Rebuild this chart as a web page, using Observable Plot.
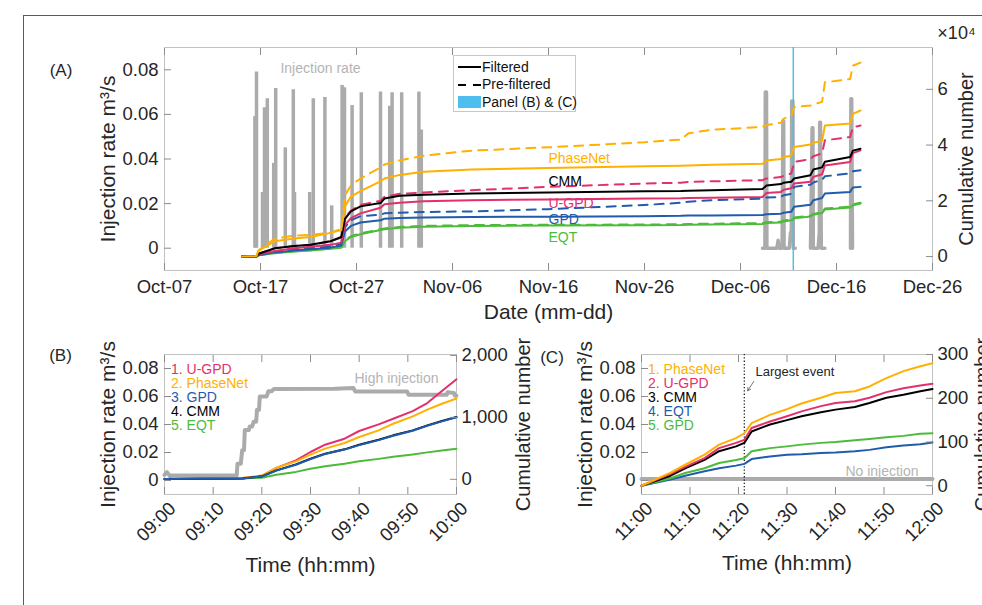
<!DOCTYPE html>
<html>
<head>
<meta charset="utf-8">
<script src="https://cdn.jsdelivr.net/npm/d3@7"></script>
<script src="https://cdn.jsdelivr.net/npm/@observablehq/plot@0.6"></script>
<style>
  html, body { margin: 0; padding: 0; background: #fff; }
  #fig { position: relative; width: 982px; height: 605px; overflow: hidden; background: #fff;
         font-family: "Liberation Sans", Arial, Helvetica, sans-serif; }
  #fig svg { position: absolute; left: 0; top: 0; }
  #border { position: absolute; left: 23px; top: 15px; width: 1100px; height: 800px;
            border-left: 1.5px solid #5a5a5a; border-top: 1.5px solid #5a5a5a; }
  #legA { position: absolute; left: 453px; top: 55px; width: 121px; height: 55px;
          border: 1px solid #c8c8c8; background: #fff; font-size: 14px; color: #111; z-index: 5; }
  #legA .row { position: absolute; left: 0; width: 121px; height: 17px; }
  #legA .lab { position: absolute; left: 28px; top: 0; line-height: 17px; white-space: nowrap; }
  #legA .seg { position: absolute; height: 0; border-top: 2px solid #000; top: 7.5px; }
  #legA .box { position: absolute; left: 4px; top: 2px; width: 23px; height: 12px; background: #4dbeee; }
</style>
</head>
<body>
<div id="fig"><div id="border"></div></div>
<script>
// ---------- shared styling ----------
const FONT = '"Liberation Sans", Arial, Helvetica, sans-serif';
const TXT = "#262626", TICK = "#8c8c8c", FRAME = "#c2c2c2", GRAY = "#ababab", LBLUE = "#4dbeee";
const ORANGE = "#ffb000", PINK = "#e2306d", BLUE = "#1f5cad", BLACK = "#000000", GREEN = "#4cbb3a";

// ---------- PANEL A data (cumulative numbers in units of 10^4) ----------
const yearA = "2020";
const xTicksA = ["10-07", "10-17", "10-27", "11-06", "11-16", "11-26", "12-06", "12-16", "12-26"];
const rateTicks = [0, 0.02, 0.04, 0.06, 0.08];
const cumTicksA = [0, 2, 4, 6];
const timeA = ["10-15 02:00","10-16 14:00","10-16 19:00","10-18 12:00","10-20 12:00","10-22 05:00",
  "10-24 07:00","10-25 10:00","10-25 19:00","10-26 10:00","10-27 10:00","10-29 12:00","10-29 22:00",
  "10-31 12:00","11-03 00:00","11-08 00:00","11-16 00:00","11-26 00:00","11-29 19:00","11-30 14:00",
  "12-03 00:00","12-08 07:00","12-08 17:00","12-10 05:00","12-10 12:00","12-11 07:00","12-11 14:00",
  "12-13 07:00","12-13 14:00","12-14 12:00","12-14 19:00","12-17 10:00","12-17 17:00","12-18 12:00"];
const phasenetA    = [0,0.02,0.2,0.55,0.65,0.7,0.85,0.95,1.8,2.15,2.35,2.7,2.8,2.93,3.04,3.12,3.18,3.24,3.26,3.27,3.29,3.33,3.45,3.5,3.57,3.62,3.93,4.02,4.08,4.15,4.7,4.77,5.12,5.24];
const phasenetPreA = [0,0.02,0.22,0.65,0.75,0.78,0.85,1.0,2.2,2.55,2.8,3.2,3.3,3.45,3.62,3.8,3.92,4.1,4.2,4.42,4.55,4.65,4.72,4.8,4.95,5.05,5.36,5.42,5.45,5.55,6.25,6.37,6.85,6.96];
const cmmA         = [0,0.01,0.1,0.3,0.38,0.42,0.55,0.7,1.35,1.62,1.8,1.92,2.08,2.18,2.22,2.26,2.3,2.34,2.35,2.36,2.38,2.42,2.55,2.6,2.65,2.68,2.8,2.92,3.12,3.2,3.4,3.57,3.8,3.87];
const ugpdA        = [0,0.01,0.08,0.2,0.3,0.35,0.42,0.5,1.13,1.38,1.55,1.75,1.88,1.93,1.98,2.02,2.05,2.08,2.09,2.1,2.11,2.14,2.28,2.32,2.4,2.45,2.62,2.68,2.86,2.95,3.27,3.39,3.71,3.81];
const ugpdPreA     = [0,0.01,0.1,0.3,0.38,0.42,0.55,0.68,1.4,1.65,1.85,2.0,2.15,2.25,2.3,2.38,2.5,2.62,2.65,2.68,2.7,2.74,2.8,2.85,2.9,2.98,3.39,3.5,3.6,3.7,4.17,4.29,4.64,4.7];
const gpdA         = [0,0,0.05,0.15,0.22,0.26,0.32,0.4,0.9,1.1,1.22,1.3,1.36,1.38,1.4,1.42,1.43,1.45,1.46,1.47,1.47,1.49,1.52,1.54,1.57,1.61,1.79,1.86,2.02,2.1,2.26,2.32,2.48,2.5];
const gpdPreA      = [0,0,0.06,0.18,0.26,0.3,0.36,0.45,1.05,1.3,1.45,1.5,1.55,1.57,1.6,1.62,1.7,1.85,1.93,1.97,2.02,2.08,2.12,2.14,2.2,2.25,2.5,2.58,2.66,2.75,2.88,2.98,3.06,3.1];
const eqtA         = [0,0,0.05,0.12,0.18,0.22,0.28,0.32,0.55,0.7,0.8,0.95,0.98,1.03,1.07,1.1,1.11,1.12,1.13,1.14,1.15,1.17,1.2,1.22,1.26,1.3,1.37,1.44,1.5,1.56,1.69,1.76,1.84,1.9];
const eqtPreA      = [0,0,0.05,0.13,0.19,0.23,0.29,0.34,0.58,0.73,0.83,0.98,1.01,1.06,1.1,1.13,1.14,1.15,1.16,1.17,1.18,1.2,1.23,1.25,1.29,1.33,1.4,1.47,1.53,1.59,1.72,1.79,1.87,1.93];
// injection spikes (peak rate, m3/s) during the October stimulation
const injOctTime = ["10-16 10:00","10-16 14:00","10-17 05:00","10-17 10:00","10-17 17:00","10-18 09:00","10-18 14:00",
  "10-19 14:00","10-20 10:00","10-20 13:00","10-22 03:00","10-22 12:00","10-23 17:00","10-24 10:00","10-25 12:00",
  "10-25 18:00","10-26 13:00","10-27 12:00","10-29 12:00","10-30 11:00","10-30 17:00","10-31 17:00","11-02 12:00","11-02 18:00"];
const injOctRate = [0.059,0.079,0.025,0.063,0.067,0.038,0.0716,0.045,0.071,0.025,0.025,0.067,0.0676,0.019,0.073,
  0.072,0.064,0.0697,0.070,0.0637,0.0697,0.0697,0.070,0.053];
// December injection (null = no record)
const injDecTime = ["12-08 07:00","12-08 13:00","12-08 14:00","12-08 17:00","12-08 18:00","12-09 19:00","12-09 22:00",
  "12-10 01:00","12-10 08:00","12-10 10:00","12-10 12:00","12-10 13:00","12-11 02:00","12-11 05:00","12-11 07:00",
  "12-11 08:00","12-11 11:00","12-11 12:00","12-11 17:00", null,
  "12-13 07:00","12-13 11:00","12-13 13:00","12-13 14:00","12-14 02:00","12-14 05:00","12-14 06:00","12-14 08:00",
  "12-14 10:00","12-14 19:00", null,
  "12-17 11:00","12-17 12:00","12-17 14:00","12-17 16:00"];
const injDecRate = [0,0,0.070,0.070,0,0,0.0036,0,0,0.057,0.057,0,0,0.007,0.004,0.066,0.066,0,0, null,
  0,0.054,0.054,0,0,0.007,0.0565,0.0565,0,0, null,
  0,0.067,0.067,0];
const panelBCTime = "12-11 12:00";
const methodsA = ["EQT", "GPD", "U-GPD", "CMM", "PhaseNet"];
const colorsA = [GREEN, BLUE, PINK, BLACK, ORANGE];
const labelA = ["PhaseNet", "CMM", "U-GPD", "GPD", "EQT"];
const labelAy = [3.53, 2.69, 1.90, 1.34, 0.69];
const labelAt = "11-16 00:00";

// ---------- PANEL B data (09:00-10:00, cumulative count) ----------
const xTicksB = ["09:00","09:10","09:20","09:30","09:40","09:50","10:00"];
const cumTicksB = [0, 1000, 2000];
const timeB = ["09:00","09:16","09:20","09:23","09:27","09:30","09:33","09:37","09:40","09:44","09:47","09:51","09:54","09:57","10:00"];
const ugpdB     = [5,20,50,185,306,441,559,656,780,887,978,1102,1231,1425,1615];
const phasenetB = [5,20,60,188,290,398,495,586,683,790,898,1016,1124,1220,1305];
const cmmB      = [5,15,48,145,242,333,414,484,559,640,710,790,871,941,1005];
const gpdB      = [5,15,45,140,236,326,408,480,552,633,704,783,865,936,1003];
const eqtB      = [5,15,27,75,120,170,210,250,290,330,365,400,435,465,495];
const injTimeB = ["09:00:00","09:00:30","09:01:10","09:01:30","09:14:50","09:15:00","09:15:40","09:15:58","09:16:20",
  "09:16:30","09:17:20","09:17:30","09:18:00","09:18:20","09:18:50","09:19:00","09:19:25","09:19:35","09:21:00",
  "09:21:20","09:22:00","09:22:30","09:35:00","09:38:50","09:39:10","09:49:50","09:50:10","09:58:00","09:58:10",
  "09:59:30","09:59:40","10:00:00"];
const injRateB = [0.004,0.006,0.003,0.0036,0.0036,0.012,0.012,0.0216,0.0216,0.036,0.036,0.0385,0.0385,0.042,0.042,
  0.0505,0.0505,0.060,0.060,0.0637,0.0637,0.0653,0.0656,0.066,0.0636,0.0636,0.0612,0.0612,0.063,0.0625,0.0605,0.0605];
const legendB = ["1. U-GPD", "2. PhaseNet", "3. GPD", "4. CMM", "5. EQT"];
const legendBColors = [PINK, ORANGE, BLUE, BLACK, GREEN];

// ---------- PANEL C data (11:00-12:00, cumulative count) ----------
const xTicksC = ["11:00","11:10","11:20","11:30","11:40","11:50","12:00"];
const cumTicksC = [0, 100, 200, 300];
const timeC = ["11:00:00","11:06:00","11:09:00","11:13:00","11:16:00","11:19:30","11:21:12","11:22:42","11:26:30",
  "11:30:00","11:33:00","11:37:00","11:40:00","11:44:00","11:47:00","11:50:30","11:54:00","11:57:30","12:00:00"];
const phasenetC = [0,30,48,71,94,109,120,143,162,175,188,201,212,216,227,246,262,273,280];
const ugpdC     = [0,27,43,63,86,98,105,132,147,159,170,182,189,193,201,214,223,229,233];
const cmmC      = [0,23,40,59,79,90,98,124,140,150,159,168,174,180,189,201,208,216,221];
const gpdC      = [0,17,29,40,52,59,63,79,86,90,94,98,100,104,107,111,114,119,120];
const eqtC      = [0,14,23,33,40,46,50,61,67,71,72,75,76,79,82,88,92,95,99];
const injTimeC = ["11:00:00", "12:00:00"];
const injRateC = [0.001, 0.001];
const largestEvent = "11:21:12";
const legendC = ["1. PhaseNet", "2. U-GPD", "3. CMM", "4. EQT", "5. GPD"];
const legendCColors = [ORANGE, PINK, BLACK, BLUE, GREEN];

// ---------- helpers ----------
const pA = d3.utcParse("%Y-%m-%d %H:%M");
const dA = s => pA(`${yearA}-${s}`);
const pHM = d3.utcParse("%H:%M"), pHMS = d3.utcParse("%H:%M:%S");
const tHM = s => (s.length > 5 ? pHMS(s) : pHM(s));
const fmtRate = d => (d === 0 ? "0" : d.toFixed(2));
const baseStyle = {background: "transparent", overflow: "visible", fontFamily: FONT, fontSize: "18.5px", color: TXT};

function tickMarks(xTicks, yTicks, yAnchor) {
  const m = [Plot.axisY({ticks: yTicks, anchor: yAnchor, tickSize: 7, dx: yAnchor === "left" ? 7 : -7,
                         fill: "none", label: null, stroke: TICK})];
  if (xTicks) {
    m.push(Plot.axisX({ticks: xTicks, anchor: "bottom", tickSize: 7, dy: -7, fill: "none", label: null, stroke: TICK}));
    m.push(Plot.axisX({ticks: xTicks, anchor: "top", tickSize: 7, dy: 7, fill: "none", label: null, stroke: TICK}));
  }
  return m;
}
function rows(times, parse, list) {
  return list.flatMap(([m, vals]) => times.map((t, i) => ({t: parse(t), v: vals[i], m})));
}
// centred text placed relative to the frame
const frameText = (s, frameAnchor, dx, dy, fontSize, extra = {}) =>
  Plot.text([s], {frameAnchor, dx, dy, fontSize, fill: TXT, textAnchor: "middle", lineAnchor: "middle", ...extra});
const fig = document.getElementById("fig");
const add = svg => fig.appendChild(svg);

// ================= PANEL A =================
const geomA = {width: 982, height: 605, marginLeft: 164, marginRight: 50, marginTop: 47, marginBottom: 335};
const xA = {type: "utc", domain: [dA("10-07 00:00"), dA("12-26 00:00")]};
const xTA = xTicksA.map(s => dA(s + " 00:00"));
const injOct = injOctTime.map((t, i) => ({t: dA(t), v: injOctRate[i]}));
const injDec = injDecTime.map((t, i) => ({t: t ? dA(t) : null, v: injDecRate[i]}));

add(Plot.plot({
  ...geomA, x: xA, y: {domain: [-0.01, 0.09]}, style: baseStyle,
  marks: [
    Plot.frame({stroke: FRAME}),
    Plot.ruleX(injOct, {x: "t", y1: 0, y2: "v", stroke: GRAY, strokeWidth: 3.5}),
    Plot.line(injDec, {x: "t", y: "v", stroke: GRAY, strokeWidth: 3.5}),
    Plot.ruleX([dA(panelBCTime)], {stroke: LBLUE, strokeWidth: 1.5}),
    ...tickMarks(xTA, rateTicks, "left"),
    Plot.axisX({ticks: xTA, anchor: "bottom", tickSize: 0, tickPadding: 9, tickFormat: d3.utcFormat("%b-%d"),
                fontSize: 18.5, fill: TXT, label: null}),
    Plot.axisY({ticks: rateTicks, anchor: "left", tickSize: 0, tickPadding: 6, tickFormat: fmtRate,
                fontSize: 18.5, fill: TXT, label: null}),
    Plot.text(["Injection rate"], {x: dA("10-23 06:00"), y: 0.0805, fill: "#b4b4b4", fontSize: 14}),
    frameText("Injection rate m³/s", "left", -56, 0, 21, {rotate: -90}),
    frameText("Date (mm-dd)", "bottom", 0, 42, 21),
    frameText("(A)", "top-left", -103.5, 23, 17)
  ]
}));

const seriesA = [["EQT", eqtA], ["GPD", gpdA], ["U-GPD", ugpdA], ["CMM", cmmA], ["PhaseNet", phasenetA]];
const seriesPreA = [["EQT", eqtPreA], ["GPD", gpdPreA], ["U-GPD", ugpdPreA], ["PhaseNet", phasenetPreA]];
add(Plot.plot({
  ...geomA, x: {...xA, axis: null}, y: {domain: [-0.5, 7.5]}, style: baseStyle,
  color: {domain: methodsA, range: colorsA},
  marks: [
    Plot.line(rows(timeA, dA, seriesPreA), {x: "t", y: "v", z: "m", stroke: "m", strokeWidth: 2, strokeDasharray: "9,7"}),
    Plot.line(rows(timeA, dA, seriesA), {x: "t", y: "v", z: "m", stroke: "m", strokeWidth: 2}),
    Plot.text(labelA, {x: dA(labelAt), y: (d, i) => labelAy[i], text: d => d, fill: d => d,
                       textAnchor: "start", fontSize: 14}),
    ...tickMarks(null, cumTicksA, "right"),
    Plot.axisY({ticks: cumTicksA, anchor: "right", tickSize: 0, tickPadding: 5, fontSize: 18.5, fill: TXT, label: null}),
    frameText("Cumulative number", "right", 34, 0, 20, {rotate: -90}),
    frameText("×10⁴", "top-right", 24, -14, 18)
  ]
}));

// ================= PANEL B =================
const geomB = {width: 982, height: 605, marginLeft: 164, marginRight: 526, marginTop: 354, marginBottom: 111};
const xB = {type: "utc", domain: [tHM("09:00"), tHM("10:00")]};
const xTB = xTicksB.map(tHM);
add(Plot.plot({
  ...geomB, x: xB, y: {domain: [-0.01, 0.09]}, style: baseStyle,
  marks: [
    Plot.frame({stroke: FRAME}),
    Plot.line(injTimeB.map((t, i) => ({t: tHM(t), v: injRateB[i]})), {x: "t", y: "v", stroke: GRAY, strokeWidth: 4}),
    ...tickMarks(xTB, rateTicks, "left"),
    Plot.axisX({ticks: xTB, anchor: "bottom", tickSize: 0, tickPadding: 11, tickRotate: -45, dx: 8,
                tickFormat: d3.utcFormat("%H:%M"), fontSize: 18.5, fill: TXT, label: null}),
    Plot.axisY({ticks: rateTicks, anchor: "left", tickSize: 0, tickPadding: 6, tickFormat: fmtRate,
                fontSize: 18.5, fill: TXT, label: null}),
    Plot.text(["High injection"], {x: tHM("09:47:40"), y: 0.0728, fill: "#b4b4b4", fontSize: 14}),
    ...legendB.map((s, i) => Plot.text([s], {frameAnchor: "top-left", dx: 6.5, dy: 15 + i * 14, textAnchor: "start",
                                             lineAnchor: "middle", fill: legendBColors[i], fontSize: 14})),
    frameText("Injection rate m³/s", "left", -56, 0, 21, {rotate: -90}),
    frameText("Time (hh:mm)", "bottom", 0, 71, 21),
    frameText("(B)", "top-left", -104, 1.5, 17)
  ]
}));
const seriesB = [["EQT", eqtB], ["U-GPD", ugpdB], ["PhaseNet", phasenetB], ["CMM", cmmB], ["GPD", gpdB]];
add(Plot.plot({
  ...geomB, x: {...xB, axis: null}, y: {domain: [-245, 2015]}, style: baseStyle,
  color: {domain: ["EQT", "U-GPD", "PhaseNet", "CMM", "GPD"], range: [GREEN, PINK, ORANGE, BLACK, BLUE]},
  marks: [
    Plot.line(rows(timeB, tHM, seriesB), {x: "t", y: "v", z: "m", stroke: "m", strokeWidth: 2}),
    ...tickMarks(null, cumTicksB, "right"),
    Plot.axisY({ticks: cumTicksB, anchor: "right", tickSize: 0, tickPadding: 5, tickFormat: d3.format(","),
                fontSize: 18.5, fill: TXT, label: null}),
    frameText("Cumulative number", "right", 67, 0, 20, {rotate: -90})
  ]
}));

// ================= PANEL C =================
const geomC = {width: 982, height: 605, marginLeft: 641, marginRight: 50, marginTop: 354, marginBottom: 111};
const xC = {type: "utc", domain: [tHM("11:00"), tHM("12:00")]};
const xTC = xTicksC.map(tHM);
add(Plot.plot({
  ...geomC, x: xC, y: {domain: [-0.01, 0.09]}, style: baseStyle,
  marks: [
    Plot.frame({stroke: FRAME}),
    Plot.line(injTimeC.map((t, i) => ({t: tHM(t), v: injRateC[i]})), {x: "t", y: "v", stroke: GRAY, strokeWidth: 4}),
    Plot.ruleX([tHM(largestEvent)], {stroke: "#222", strokeWidth: 1.3, strokeDasharray: "1.3,2"}),
    Plot.arrow([{x1: tHM("11:23:09"), y1: 0.0708, x2: tHM("11:21:54"), y2: 0.0641}],
               {x1: "x1", y1: "y1", x2: "x2", y2: "y2", stroke: "#555", strokeWidth: 0.8, headLength: 6}),
    Plot.text(["Largest event"], {x: tHM("11:23:30"), y: 0.0773, textAnchor: "start", fontSize: 13, fill: TXT}),
    ...tickMarks(xTC, rateTicks, "left"),
    Plot.axisX({ticks: xTC, anchor: "bottom", tickSize: 0, tickPadding: 11, tickRotate: -45, dx: 8,
                tickFormat: d3.utcFormat("%H:%M"), fontSize: 18.5, fill: TXT, label: null}),
    Plot.axisY({ticks: rateTicks, anchor: "left", tickSize: 0, tickPadding: 6, tickFormat: fmtRate,
                fontSize: 18.5, fill: TXT, label: null}),
    Plot.text(["No injection"], {x: tHM("11:49:35"), y: 0.0065, fill: "#b4b4b4", fontSize: 14}),
    ...legendC.map((s, i) => Plot.text([s], {frameAnchor: "top-left", dx: 6.5, dy: 15 + i * 14, textAnchor: "start",
                                             lineAnchor: "middle", fill: legendCColors[i], fontSize: 14})),
    frameText("Injection rate m³/s", "left", -56, 0, 21, {rotate: -90}),
    frameText("Time (hh:mm)", "bottom", 0, 69, 21),
    frameText("(C)", "top-left", -89.5, 3, 17)
  ]
}));
const seriesC = [["EQT", eqtC], ["GPD", gpdC], ["CMM", cmmC], ["U-GPD", ugpdC], ["PhaseNet", phasenetC]];
add(Plot.plot({
  ...geomC, x: {...xC, axis: null}, y: {domain: [-20, 300]}, style: baseStyle,
  color: {domain: ["PhaseNet", "U-GPD", "CMM", "EQT", "GPD"], range: [ORANGE, PINK, BLACK, BLUE, GREEN]},
  marks: [
    Plot.line(rows(timeC, tHM, seriesC), {x: "t", y: "v", z: "m", stroke: "m", strokeWidth: 2}),
    ...tickMarks(null, cumTicksC, "right"),
    Plot.axisY({ticks: cumTicksC, anchor: "right", tickSize: 0, tickPadding: 5, fontSize: 18.5, fill: TXT, label: null}),
    frameText("Cumulative number", "right", 50, 0, 20, {rotate: -90})
  ]
}));

// ================= Legend of panel A =================
const legendItems = ["Filtered", "Pre-filtered", "Panel (B) & (C)"];
const legendKinds = ["solid", "dashed", "box"];
const leg = document.createElement("div");
leg.id = "legA";
legendItems.forEach((lab, i) => {
  const row = document.createElement("div");
  row.className = "row";
  row.style.top = (2.5 + i * 17.5) + "px";
  if (legendKinds[i] === "solid") row.innerHTML = '<div class="seg" style="left:4px;width:23px"></div>';
  else if (legendKinds[i] === "dashed") row.innerHTML = '<div class="seg" style="left:4px;width:8px"></div><div class="seg" style="left:19px;width:8px"></div>';
  else row.innerHTML = '<div class="box"></div>';
  const t = document.createElement("div");
  t.className = "lab";
  t.textContent = lab;
  row.appendChild(t);
  leg.appendChild(row);
});
fig.appendChild(leg);
</script>
</body>
</html>
